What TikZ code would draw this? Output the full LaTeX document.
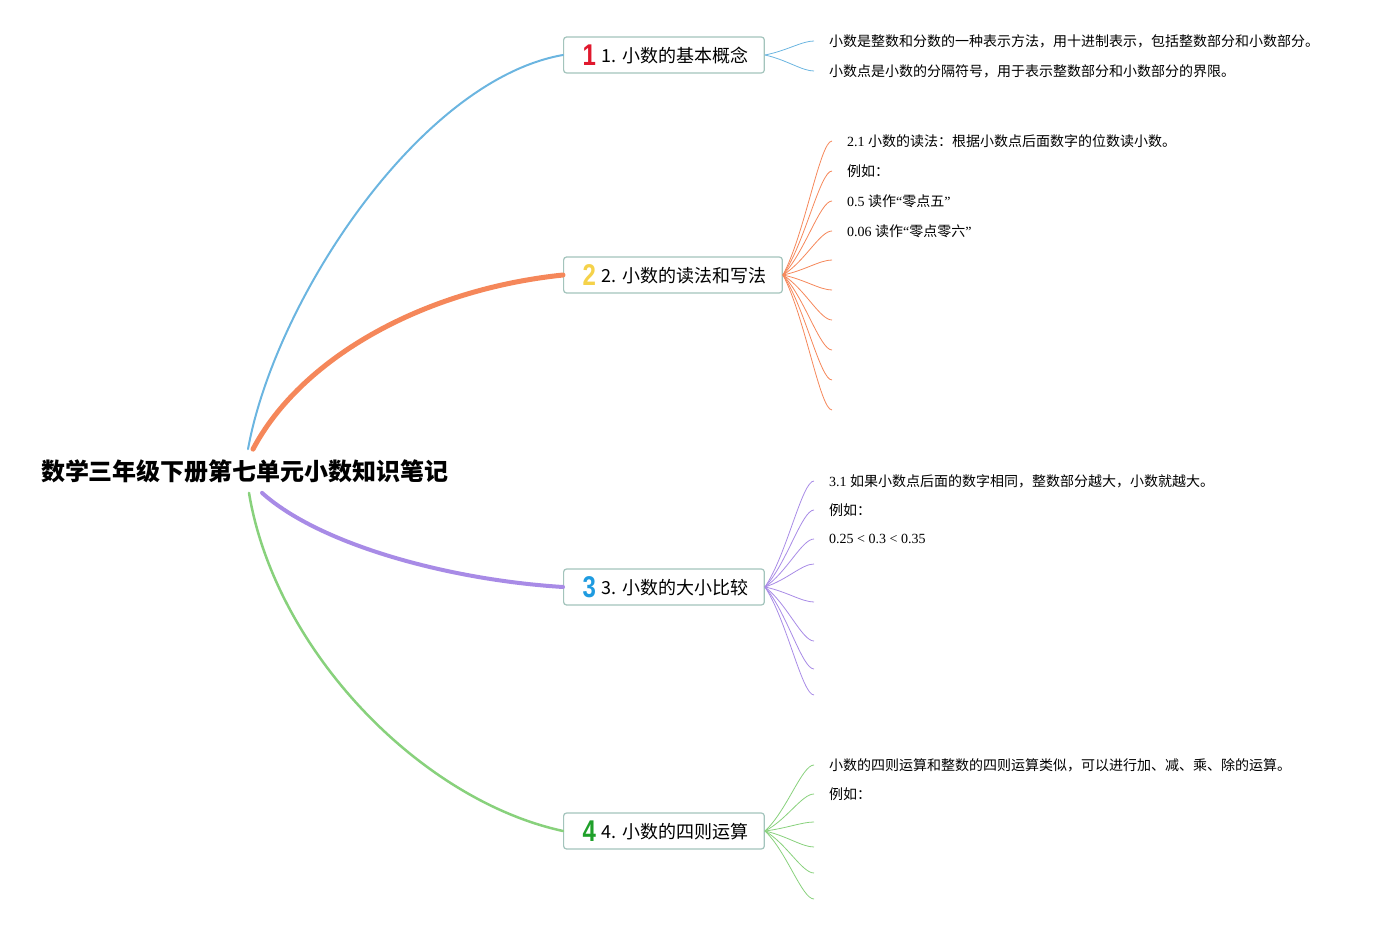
\documentclass[tikz,border=0pt]{standalone}
\usepackage{fontspec}
\setmainfont{Liberation Serif}
\newfontfamily\cjk{Noto Sans CJK SC}
\newfontfamily\badgefont{Liberation Sans}
\usetikzlibrary{calc}

\definecolor{lineblue}{HTML}{6BB5E0}
\definecolor{lineorange}{HTML}{F5875A}
\definecolor{linepurple}{HTML}{A88BE6}
\definecolor{linegreen}{HTML}{88D17C}
\definecolor{boxborder}{HTML}{A3C4BC}
\definecolor{badgered}{HTML}{E0182D}
\definecolor{badgeyellow}{HTML}{F5D24A}
\definecolor{badgeblue}{HTML}{1E9BE0}
\definecolor{badgegreen}{HTML}{1FA02A}
\newcommand{\badge}[2]{\hspace{3pt}\raisebox{-2.5pt}{\scalebox{0.8}[1]{\badgefont\bfseries\fontsize{30}{30}\selectfont\color{#1}#2}}\hspace{6pt}}

\begin{document}
\begin{tikzpicture}[
        x=1pt, y=-1pt,
        root/.style={font=\cjk\bfseries\fontsize{24}{28}\selectfont, inner xsep=0pt, inner ysep=10pt},
        topic/.style={rectangle, rounded corners=3pt, draw=boxborder, line width=1.2pt, fill=white, anchor=west, minimum height=36pt, inner xsep=16pt, font=\cjk\fontsize{18}{20}\selectfont},
        leaf/.style={anchor=west, inner xsep=15pt, inner ysep=0pt, font=\fontsize{14}{16}\selectfont},
        branch/.style={line width=#1, line cap=round},
        leafedge/.style={draw=#1, line width=0.8pt, to path={.. controls ($(\tikztostart)!0.3!(\tikztotarget)+(7,0)$) and ($(\tikztotarget)+(-12,0)$) .. (\tikztotarget)}}
    ]
        \useasboundingbox (0,0) rectangle (1379,925);

        % Root and main topics
        \node[root] (title) at (245,471) {数学三年级下册第七单元小数知识笔记};

        \node[topic] (b1) at (563,55) {\badge{badgered}{1}1. 小数的基本概念};
        \node[topic] (b2) at (563,275) {\badge{badgeyellow}{2}2. 小数的读法和写法};
        \node[topic] (b3) at (563,587) {\badge{badgeblue}{3}3. 小数的大小比较};
        \node[topic] (b4) at (563,831) {\badge{badgegreen}{4}4. 小数的四则运算};

        % Leaves
        \node[leaf] (l1a) at (814,41) {\cjk 小数是整数和分数的一种表示方法，用十进制表示，包括整数部分和小数部分。};
        \node[leaf] (l1b) at (814,71) {\cjk 小数点是小数的分隔符号，用于表示整数部分和小数部分的界限。};

        \node[leaf] (l2a) at (832,141) {2.1 {\cjk 小数的读法：根据小数点后面数字的位数读小数。}};
        \node[leaf] (l2b) at (832,171) {\cjk 例如：};
        \node[leaf] (l2c) at (832,201) {0.5 {\cjk 读作}“{\cjk 零点五}”};
        \node[leaf] (l2d) at (832,231) {0.06 {\cjk 读作}“{\cjk 零点零六}”};
        \coordinate (l2e) at (832,260);
        \coordinate (l2f) at (832,290);
        \coordinate (l2g) at (832,320);
        \coordinate (l2h) at (832,350);
        \coordinate (l2i) at (832,380);
        \coordinate (l2j) at (832,410);

        \node[leaf] (l3a) at (814,481) {3.1 {\cjk 如果小数点后面的数字相同，整数部分越大，小数就越大。}};
        \node[leaf] (l3b) at (814,510) {\cjk 例如：};
        \node[leaf] (l3c) at (814,539) {0.25 < 0.3 < 0.35};
        \coordinate (l3d) at (814,564);
        \coordinate (l3e) at (814,602);
        \coordinate (l3f) at (814,641);
        \coordinate (l3g) at (814,669);
        \coordinate (l3h) at (814,695);

        \node[leaf] (l4a) at (814,765) {\cjk 小数的四则运算和整数的四则运算类似，可以进行加、减、乘、除的运算。};
        \node[leaf] (l4b) at (814,794) {\cjk 例如：};
        \coordinate (l4c) at (814,822);
        \coordinate (l4d) at (814,847);
        \coordinate (l4e) at (814,873);
        \coordinate (l4f) at (814,899);

        % Main branches
        \draw[branch=2pt, lineblue] ([xshift=3pt]title.north) .. controls (275,300) and (420,80) .. (b1.west);
        \draw[branch=5pt, lineorange] ([xshift=8pt]title.north) .. controls (300,360) and (420,290) .. (b2.west);
        \draw[branch=4pt, linepurple] ([xshift=17pt]title.south) .. controls (320,545) and (450,580) .. (b3.west);
        \draw[branch=2.5pt, linegreen] ([xshift=4pt]title.south) .. controls (275,650) and (420,800) .. (b4.west);

        % Leaf edges
        \draw[leafedge=lineblue] (b1.east) to (l1a.west);
        \draw[leafedge=lineblue] (b1.east) to (l1b.west);

        \draw[leafedge=lineorange] (b2.east) to (l2a.west);
        \draw[leafedge=lineorange] (b2.east) to (l2b.west);
        \draw[leafedge=lineorange] (b2.east) to (l2c.west);
        \draw[leafedge=lineorange] (b2.east) to (l2d.west);
        \draw[leafedge=lineorange] (b2.east) to (l2e);
        \draw[leafedge=lineorange] (b2.east) to (l2f);
        \draw[leafedge=lineorange] (b2.east) to (l2g);
        \draw[leafedge=lineorange] (b2.east) to (l2h);
        \draw[leafedge=lineorange] (b2.east) to (l2i);
        \draw[leafedge=lineorange] (b2.east) to (l2j);

        \draw[leafedge=linepurple] (b3.east) to (l3a.west);
        \draw[leafedge=linepurple] (b3.east) to (l3b.west);
        \draw[leafedge=linepurple] (b3.east) to (l3c.west);
        \draw[leafedge=linepurple] (b3.east) to (l3d);
        \draw[leafedge=linepurple] (b3.east) to (l3e);
        \draw[leafedge=linepurple] (b3.east) to (l3f);
        \draw[leafedge=linepurple] (b3.east) to (l3g);
        \draw[leafedge=linepurple] (b3.east) to (l3h);

        \draw[leafedge=linegreen] (b4.east) to (l4a.west);
        \draw[leafedge=linegreen] (b4.east) to (l4b.west);
        \draw[leafedge=linegreen] (b4.east) to (l4c);
        \draw[leafedge=linegreen] (b4.east) to (l4d);
        \draw[leafedge=linegreen] (b4.east) to (l4e);
        \draw[leafedge=linegreen] (b4.east) to (l4f);

    \end{tikzpicture}
\end{document}
